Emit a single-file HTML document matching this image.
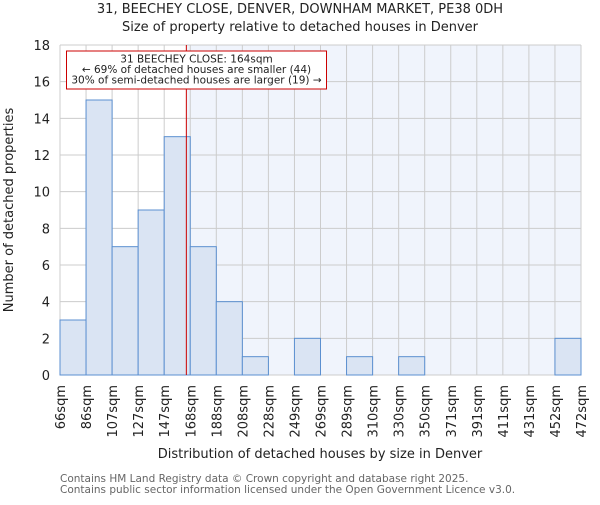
<!DOCTYPE html>
<html><head><meta charset="utf-8"><style>
body{margin:0;background:#fff;}
svg text{font-family:"DejaVu Sans","Liberation Sans",sans-serif;}
</style></head><body>
<svg id="chart" width="600" height="500" xmlns="http://www.w3.org/2000/svg">
<text x="300" y="13" text-anchor="middle" font-size="13" fill="#222">31, BEECHEY CLOSE, DENVER, DOWNHAM MARKET, PE38 0DH</text>
<text x="300" y="31" text-anchor="middle" font-size="13" fill="#222">Size of property relative to detached houses in Denver</text>
<g id="plot"></g>
<text x="320" y="458" text-anchor="middle" font-size="13" fill="#222">Distribution of detached houses by size in Denver</text>
<text transform="translate(13,210) rotate(-90)" text-anchor="middle" font-size="13" fill="#222">Number of detached properties</text>
<text x="60" y="482" font-size="10.5" fill="#666">Contains HM Land Registry data © Crown copyright and database right 2025.</text>
<text x="60" y="493" font-size="10.5" fill="#666">Contains public sector information licensed under the Open Government Licence v3.0.</text>
</svg>
<script>
const binLabels=["66sqm","86sqm","107sqm","127sqm","147sqm","168sqm","188sqm","208sqm","228sqm","249sqm","269sqm","289sqm","310sqm","330sqm","350sqm","371sqm","391sqm","411sqm","431sqm","452sqm","472sqm"];
const counts=[3,15,7,9,13,7,4,1,0,2,0,1,0,1,0,0,0,0,0,2];
const yTicks=[0,2,4,6,8,10,12,14,16,18];
const propertyBinPos=4.85;
const NS="http://www.w3.org/2000/svg";
const L=60,R=581,T=45,B=375,yMax=18;
const n=counts.length;
const x=i=>L+(R-L)*i/n;
const y=v=>B-(B-T)*v/yMax;
const g=document.getElementById('plot');
function mk(tag,attrs){const e=document.createElementNS(NS,tag);for(const k in attrs)e.setAttribute(k,attrs[k]);g.appendChild(e);return e;}
const rx=x(propertyBinPos);
let bg=mk('rect',{x:L,y:T,width:rx-L,height:B-T,fill:'#fff'});


let bg2=mk('rect',{x:rx,y:T,width:R-rx,height:B-T,fill:'#f0f4fc'});


yTicks.forEach(t=>{
 const l=mk('line',{x1:L,x2:R,y1:y(t),y2:y(t),stroke:'#ccc','stroke-width':1});
 
 
 const tx=mk('text',{x:L-10,y:y(t)+5,'text-anchor':'end','font-size':13,fill:'#222'});
 tx.textContent=t;
 
 
});
binLabels.forEach((lb,i)=>{
 const l=mk('line',{x1:x(i),x2:x(i),y1:T,y2:B,stroke:'#ccc','stroke-width':1});
 
 
 const tx=mk('text',{transform:`translate(${x(i)+5},${B+10}) rotate(-90)`,'text-anchor':'end','font-size':13,fill:'#222'});
 tx.textContent=lb;
 
 
});
counts.forEach((c,i)=>{
 if(c<=0)return;
 const r=mk('rect',{x:x(i),y:y(c),width:x(i+1)-x(i),height:B-y(c),fill:'#dae4f3',stroke:'#5b8fd0','stroke-width':1});
 
 
});
const ln=mk('line',{x1:rx,x2:rx,y1:T,y2:B,stroke:'#cc0000','stroke-width':1});


const box=mk('rect',{x:66.5,y:51,width:260,height:38,fill:'#fff',stroke:'#cc0000','stroke-width':1});


["31 BEECHEY CLOSE: 164sqm","← 69% of detached houses are smaller (44)","30% of semi-detached houses are larger (19) →"].forEach((s,i)=>{
 const t=mk('text',{x:196.5,y:62.5+i*10.5,'text-anchor':'middle','font-size':10.5,fill:'#222'});
 t.textContent=s;
 
 
});
</script>
</body></html>
